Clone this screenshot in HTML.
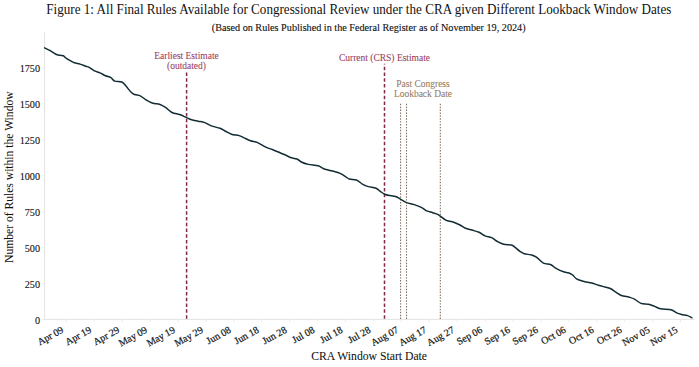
<!DOCTYPE html><html><head><meta charset="utf-8"><style>html,body{margin:0;padding:0;background:#fff;width:699px;height:367px;overflow:hidden}svg{display:block}text{font-family:"Liberation Serif",serif}.k{fill:#111;stroke:#111;stroke-width:0.1px}.c{stroke:#9a3d5e;stroke-width:0.08px}.b{stroke:#987c62;stroke-width:0.08px}</style></head><body>
<svg width="699" height="367" viewBox="0 0 699 367">
<rect width="699" height="367" fill="#fff"/>
<text transform="translate(46.3,14.45) scale(1,1.07)" font-size="13.12" class="k" style="stroke-width:0.0px">Figure 1: All Final Rules Available for Congressional Review under the CRA given Different Lookback Window Dates</text>
<text x="211.8" y="30.7" font-size="10.2" class="k" style="stroke-width:0.12px">(Based on Rules Published in the Federal Register as of November 19, 2024)</text>
<line x1="44.6" y1="32" x2="44.6" y2="319.4" stroke="#e2e2e2" stroke-width="1"/>
<line x1="44.6" y1="319.4" x2="694.5" y2="319.4" stroke="#e2e2e2" stroke-width="1"/>
<line x1="41.6" y1="319.50" x2="44.6" y2="319.50" stroke="#ededed" stroke-width="1"/>
<text x="40.0" y="323.50" font-size="10.2" text-anchor="end" class="k">0</text>
<line x1="41.6" y1="283.53" x2="44.6" y2="283.53" stroke="#ededed" stroke-width="1"/>
<text x="40.0" y="287.53" font-size="10.2" text-anchor="end" class="k">250</text>
<line x1="41.6" y1="247.56" x2="44.6" y2="247.56" stroke="#ededed" stroke-width="1"/>
<text x="40.0" y="251.56" font-size="10.2" text-anchor="end" class="k">500</text>
<line x1="41.6" y1="211.58" x2="44.6" y2="211.58" stroke="#ededed" stroke-width="1"/>
<text x="40.0" y="215.58" font-size="10.2" text-anchor="end" class="k">750</text>
<line x1="41.6" y1="175.61" x2="44.6" y2="175.61" stroke="#ededed" stroke-width="1"/>
<text x="40.0" y="179.61" font-size="10.2" text-anchor="end" class="k">1000</text>
<line x1="41.6" y1="139.64" x2="44.6" y2="139.64" stroke="#ededed" stroke-width="1"/>
<text x="40.0" y="143.64" font-size="10.2" text-anchor="end" class="k">1250</text>
<line x1="41.6" y1="103.67" x2="44.6" y2="103.67" stroke="#ededed" stroke-width="1"/>
<text x="40.0" y="107.67" font-size="10.2" text-anchor="end" class="k">1500</text>
<line x1="41.6" y1="67.69" x2="44.6" y2="67.69" stroke="#ededed" stroke-width="1"/>
<text x="40.0" y="71.69" font-size="10.2" text-anchor="end" class="k">1750</text>
<line x1="66.30" y1="319.4" x2="66.30" y2="322.4" stroke="#ededed" stroke-width="1"/>
<text transform="translate(64.20,331.80) scale(1,1.0) rotate(-29)" font-size="10.0" text-anchor="end" class="k" style="stroke-width:0.2px">Apr 09</text>
<line x1="94.22" y1="319.4" x2="94.22" y2="322.4" stroke="#ededed" stroke-width="1"/>
<text transform="translate(92.12,331.80) scale(1,1.0) rotate(-29)" font-size="10.0" text-anchor="end" class="k" style="stroke-width:0.2px">Apr 19</text>
<line x1="122.14" y1="319.4" x2="122.14" y2="322.4" stroke="#ededed" stroke-width="1"/>
<text transform="translate(120.04,331.80) scale(1,1.0) rotate(-29)" font-size="10.0" text-anchor="end" class="k" style="stroke-width:0.2px">Apr 29</text>
<line x1="150.06" y1="319.4" x2="150.06" y2="322.4" stroke="#ededed" stroke-width="1"/>
<text transform="translate(147.96,331.80) scale(1,1.0) rotate(-29)" font-size="10.0" text-anchor="end" class="k" style="stroke-width:0.2px">May 09</text>
<line x1="177.98" y1="319.4" x2="177.98" y2="322.4" stroke="#ededed" stroke-width="1"/>
<text transform="translate(175.88,331.80) scale(1,1.0) rotate(-29)" font-size="10.0" text-anchor="end" class="k" style="stroke-width:0.2px">May 19</text>
<line x1="205.90" y1="319.4" x2="205.90" y2="322.4" stroke="#ededed" stroke-width="1"/>
<text transform="translate(203.80,331.80) scale(1,1.0) rotate(-29)" font-size="10.0" text-anchor="end" class="k" style="stroke-width:0.2px">May 29</text>
<line x1="233.82" y1="319.4" x2="233.82" y2="322.4" stroke="#ededed" stroke-width="1"/>
<text transform="translate(231.72,331.80) scale(1,1.0) rotate(-29)" font-size="10.0" text-anchor="end" class="k" style="stroke-width:0.2px">Jun 08</text>
<line x1="261.74" y1="319.4" x2="261.74" y2="322.4" stroke="#ededed" stroke-width="1"/>
<text transform="translate(259.64,331.80) scale(1,1.0) rotate(-29)" font-size="10.0" text-anchor="end" class="k" style="stroke-width:0.2px">Jun 18</text>
<line x1="289.66" y1="319.4" x2="289.66" y2="322.4" stroke="#ededed" stroke-width="1"/>
<text transform="translate(287.56,331.80) scale(1,1.0) rotate(-29)" font-size="10.0" text-anchor="end" class="k" style="stroke-width:0.2px">Jun 28</text>
<line x1="317.58" y1="319.4" x2="317.58" y2="322.4" stroke="#ededed" stroke-width="1"/>
<text transform="translate(315.48,331.80) scale(1,1.0) rotate(-29)" font-size="10.0" text-anchor="end" class="k" style="stroke-width:0.2px">Jul 08</text>
<line x1="345.50" y1="319.4" x2="345.50" y2="322.4" stroke="#ededed" stroke-width="1"/>
<text transform="translate(343.40,331.80) scale(1,1.0) rotate(-29)" font-size="10.0" text-anchor="end" class="k" style="stroke-width:0.2px">Jul 18</text>
<line x1="373.42" y1="319.4" x2="373.42" y2="322.4" stroke="#ededed" stroke-width="1"/>
<text transform="translate(371.32,331.80) scale(1,1.0) rotate(-29)" font-size="10.0" text-anchor="end" class="k" style="stroke-width:0.2px">Jul 28</text>
<line x1="401.34" y1="319.4" x2="401.34" y2="322.4" stroke="#ededed" stroke-width="1"/>
<text transform="translate(399.24,331.80) scale(1,1.0) rotate(-29)" font-size="10.0" text-anchor="end" class="k" style="stroke-width:0.2px">Aug 07</text>
<line x1="429.26" y1="319.4" x2="429.26" y2="322.4" stroke="#ededed" stroke-width="1"/>
<text transform="translate(427.16,331.80) scale(1,1.0) rotate(-29)" font-size="10.0" text-anchor="end" class="k" style="stroke-width:0.2px">Aug 17</text>
<line x1="457.18" y1="319.4" x2="457.18" y2="322.4" stroke="#ededed" stroke-width="1"/>
<text transform="translate(455.08,331.80) scale(1,1.0) rotate(-29)" font-size="10.0" text-anchor="end" class="k" style="stroke-width:0.2px">Aug 27</text>
<line x1="485.10" y1="319.4" x2="485.10" y2="322.4" stroke="#ededed" stroke-width="1"/>
<text transform="translate(483.00,331.80) scale(1,1.0) rotate(-29)" font-size="10.0" text-anchor="end" class="k" style="stroke-width:0.2px">Sep 06</text>
<line x1="513.02" y1="319.4" x2="513.02" y2="322.4" stroke="#ededed" stroke-width="1"/>
<text transform="translate(510.92,331.80) scale(1,1.0) rotate(-29)" font-size="10.0" text-anchor="end" class="k" style="stroke-width:0.2px">Sep 16</text>
<line x1="540.94" y1="319.4" x2="540.94" y2="322.4" stroke="#ededed" stroke-width="1"/>
<text transform="translate(538.84,331.80) scale(1,1.0) rotate(-29)" font-size="10.0" text-anchor="end" class="k" style="stroke-width:0.2px">Sep 26</text>
<line x1="568.86" y1="319.4" x2="568.86" y2="322.4" stroke="#ededed" stroke-width="1"/>
<text transform="translate(566.76,331.80) scale(1,1.0) rotate(-29)" font-size="10.0" text-anchor="end" class="k" style="stroke-width:0.2px">Oct 06</text>
<line x1="596.78" y1="319.4" x2="596.78" y2="322.4" stroke="#ededed" stroke-width="1"/>
<text transform="translate(594.68,331.80) scale(1,1.0) rotate(-29)" font-size="10.0" text-anchor="end" class="k" style="stroke-width:0.2px">Oct 16</text>
<line x1="624.70" y1="319.4" x2="624.70" y2="322.4" stroke="#ededed" stroke-width="1"/>
<text transform="translate(622.60,331.80) scale(1,1.0) rotate(-29)" font-size="10.0" text-anchor="end" class="k" style="stroke-width:0.2px">Oct 26</text>
<line x1="652.62" y1="319.4" x2="652.62" y2="322.4" stroke="#ededed" stroke-width="1"/>
<text transform="translate(650.52,331.80) scale(1,1.0) rotate(-29)" font-size="10.0" text-anchor="end" class="k" style="stroke-width:0.2px">Nov 05</text>
<line x1="680.54" y1="319.4" x2="680.54" y2="322.4" stroke="#ededed" stroke-width="1"/>
<text transform="translate(678.44,331.80) scale(1,1.0) rotate(-29)" font-size="10.0" text-anchor="end" class="k" style="stroke-width:0.2px">Nov 15</text>
<text x="311.2" y="360.0" font-size="11.7" class="k" style="stroke-width:0.05px">CRA Window Start Date</text>
<text transform="translate(13.0,177.2) rotate(-90)" font-size="11.6" text-anchor="middle" class="k" style="stroke-width:0.05px">Number of Rules within the Window</text>
<line x1="186.6" y1="319.4" x2="186.6" y2="72.4" stroke="#80284a" stroke-width="1.5" stroke-dasharray="3.5 2.276" stroke-dashoffset="5.026"/>
<line x1="384.5" y1="319.4" x2="384.5" y2="63.8" stroke="#80284a" stroke-width="1.5" stroke-dasharray="3.5 2.276" stroke-dashoffset="5.026"/>
<line x1="400.6" y1="103.8" x2="400.6" y2="319.4" stroke="#7c6a5a" stroke-width="1.05" stroke-dasharray="1.45 1.439"/>
<line x1="406.5" y1="103.8" x2="406.5" y2="319.4" stroke="#7c6a5a" stroke-width="1.05" stroke-dasharray="1.45 1.439"/>
<line x1="440.3" y1="103.8" x2="440.3" y2="319.4" stroke="#7c6a5a" stroke-width="1.05" stroke-dasharray="1.45 1.439"/>
<text transform="translate(186.5,58.9) scale(1,1.06)" font-size="9.5" text-anchor="middle" class="c" fill="#9a3d5e">Earliest Estimate</text>
<text transform="translate(186.5,69.0) scale(1,1.06)" font-size="9.5" text-anchor="middle" class="c" fill="#9a3d5e">(outdated)</text>
<text transform="translate(384.5,61.3) scale(1,1.06)" font-size="9.5" text-anchor="middle" class="c" fill="#9a3d5e">Current (CRS) Estimate</text>
<text transform="translate(423,87.1) scale(1,1.06)" font-size="9.5" text-anchor="middle" class="b" fill="#987c62">Past Congress</text>
<text transform="translate(423,97.1) scale(1,1.06)" font-size="9.5" text-anchor="middle" class="b" fill="#987c62">Lookback Date</text>
<path d="M44.60,47.90 C45.47,48.32 47.93,49.35 49.80,50.40 C51.67,51.45 54.10,53.39 55.80,54.21 C57.50,55.02 58.75,55.06 60.00,55.31 C61.25,55.56 62.28,55.23 63.30,55.71 C64.32,56.20 64.95,57.40 66.10,58.21 C67.25,59.03 68.83,59.87 70.20,60.62 C71.57,61.37 72.67,62.13 74.30,62.72 C75.93,63.30 78.08,63.54 80.00,64.12 C81.92,64.71 84.28,65.69 85.80,66.23 C87.32,66.76 87.65,66.56 89.10,67.33 C90.55,68.10 92.68,69.91 94.50,70.83 C96.32,71.75 98.17,72.02 100.00,72.83 C101.83,73.65 103.68,74.95 105.50,75.74 C107.32,76.52 109.37,76.64 110.90,77.54 C112.43,78.44 112.88,80.41 114.70,81.14 C116.52,81.88 119.88,81.08 121.80,81.95 C123.72,82.82 124.38,84.40 126.20,86.35 C128.02,88.30 130.35,92.07 132.70,93.65 C135.05,95.24 138.12,94.84 140.30,95.86 C142.48,96.88 143.80,98.56 145.80,99.76 C147.80,100.96 149.93,102.27 152.30,103.07 C154.67,103.87 157.80,103.84 160.00,104.57 C162.20,105.31 163.50,106.16 165.50,107.47 C167.50,108.79 169.65,111.29 172.00,112.48 C174.35,113.66 177.23,113.77 179.60,114.58 C181.97,115.40 184.20,116.52 186.20,117.39 C188.20,118.26 189.60,119.16 191.60,119.79 C193.60,120.43 196.02,120.73 198.20,121.19 C200.38,121.66 202.52,121.81 204.70,122.60 C206.88,123.38 208.75,124.95 211.30,125.90 C213.85,126.85 217.63,127.42 220.00,128.31 C222.37,129.19 223.58,130.23 225.50,131.21 C227.42,132.20 229.23,133.48 231.50,134.22 C233.77,134.95 237.02,135.02 239.10,135.62 C241.18,136.22 242.10,136.97 244.00,137.82 C245.90,138.67 248.23,139.93 250.50,140.73 C252.77,141.53 255.05,141.56 257.60,142.63 C260.15,143.70 263.35,145.98 265.80,147.14 C268.25,148.29 269.93,148.61 272.30,149.54 C274.67,150.48 277.63,151.76 280.00,152.75 C282.37,153.73 284.77,154.65 286.50,155.45 C288.23,156.25 288.67,156.97 290.40,157.55 C292.13,158.14 295.08,158.22 296.90,158.96 C298.72,159.69 299.38,161.06 301.30,161.96 C303.22,162.86 305.58,163.73 308.40,164.36 C311.22,165.00 315.67,165.03 318.20,165.77 C320.73,166.50 321.60,167.99 323.60,168.77 C325.60,169.56 327.47,169.71 330.20,170.48 C332.93,171.24 337.63,172.50 340.00,173.38 C342.37,174.27 342.85,174.85 344.40,175.78 C345.95,176.72 347.30,178.29 349.30,178.99 C351.30,179.69 354.13,179.09 356.40,179.99 C358.67,180.89 360.90,183.30 362.90,184.40 C364.90,185.50 366.22,185.95 368.40,186.60 C370.58,187.25 374.02,187.52 376.00,188.30 C377.98,189.09 378.85,190.32 380.30,191.31 C381.75,192.29 383.05,193.49 384.70,194.21 C386.35,194.93 388.38,195.25 390.20,195.61 C392.02,195.98 393.97,195.88 395.60,196.42 C397.23,196.95 398.18,197.78 400.00,198.82 C401.82,199.85 404.13,201.65 406.50,202.62 C408.87,203.59 411.65,203.79 414.20,204.63 C416.75,205.46 419.72,206.60 421.80,207.63 C423.88,208.67 424.88,209.98 426.70,210.84 C428.52,211.69 430.78,212.10 432.70,212.74 C434.62,213.37 436.02,213.41 438.20,214.64 C440.38,215.88 443.45,218.96 445.80,220.15 C448.15,221.33 449.93,220.95 452.30,221.75 C454.67,222.55 457.80,223.87 460.00,224.96 C462.20,226.04 463.50,227.41 465.50,228.26 C467.50,229.11 469.73,229.40 472.00,230.06 C474.27,230.73 476.92,231.30 479.10,232.27 C481.28,233.24 483.02,234.99 485.10,235.87 C487.18,236.76 489.52,236.61 491.60,237.58 C493.68,238.54 495.60,240.56 497.60,241.68 C499.60,242.80 501.32,243.73 503.60,244.28 C505.88,244.83 509.48,244.57 511.30,244.99 C513.12,245.41 513.05,245.72 514.50,246.79 C515.95,247.86 518.35,250.23 520.00,251.39 C521.65,252.56 522.58,253.21 524.40,253.80 C526.22,254.38 528.90,254.35 530.90,254.90 C532.90,255.45 534.32,255.74 536.40,257.10 C538.48,258.47 541.05,261.87 543.40,263.11 C545.75,264.34 548.40,263.64 550.50,264.51 C552.60,265.38 553.82,267.10 556.00,268.32 C558.18,269.53 561.27,270.97 563.60,271.82 C565.93,272.67 568.48,272.89 570.00,273.42 C571.52,273.96 571.62,274.12 572.70,275.03 C573.78,275.93 574.77,277.79 576.50,278.83 C578.23,279.86 580.55,280.53 583.10,281.23 C585.65,281.93 589.25,282.37 591.80,283.04 C594.35,283.71 596.22,284.57 598.40,285.24 C600.58,285.91 602.92,286.51 604.90,287.05 C606.88,287.58 608.48,287.60 610.30,288.45 C612.12,289.30 613.97,290.98 615.80,292.15 C617.63,293.32 618.93,294.59 621.30,295.46 C623.67,296.32 627.73,296.71 630.00,297.36 C632.27,298.01 633.07,298.36 634.90,299.36 C636.73,300.36 638.75,302.55 641.00,303.37 C643.25,304.19 646.15,303.77 648.40,304.27 C650.65,304.77 652.47,305.62 654.50,306.38 C656.53,307.13 657.83,308.21 660.60,308.78 C663.37,309.35 668.43,309.10 671.10,309.79 C673.77,310.47 674.87,312.10 676.60,312.89 C678.33,313.67 679.67,314.04 681.50,314.49 C683.33,314.94 685.87,315.04 687.60,315.60 C689.33,316.15 691.18,317.43 691.90,317.80" fill="none" stroke="#122c33" stroke-width="1.5" stroke-linejoin="round" stroke-linecap="round"/>
</svg></body></html>
